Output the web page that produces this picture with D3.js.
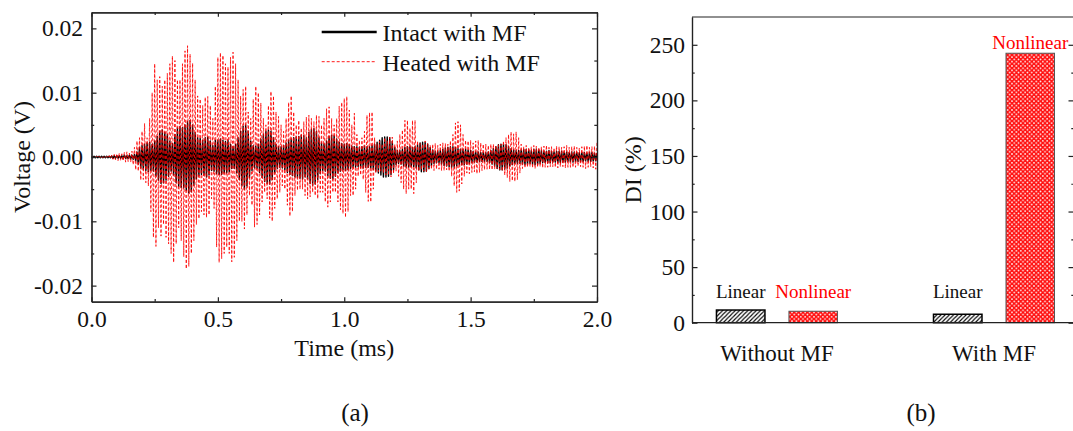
<!DOCTYPE html>
<html><head><meta charset="utf-8">
<script src="https://cdn.jsdelivr.net/npm/d3@7"></script>
<style>
body{margin:0;background:#fff;}
svg{display:block;}
</style></head><body>
<svg id="c" width="1073" height="431" font-family="Liberation Serif, Times New Roman, serif"></svg>
<script>
// ---------- data ----------
const sampleStep = 0.005; // ms between successive extremes
// alternating signal extremes (mV)
const intactMF_mV = [
0.1,-0.1,0.1,-0.1,0.1,-0.1,0.1,-0.1,0.1,-0.1,0.1,-0.1,0.1,-0.1,0.1,-0.1,0.15,-0.2,0.2,-0.2,
0.2,-0.2,0.2,-0.2,0.2,-0.25,0.3,-0.25,0.2,-0.25,0.3,-0.3,0.3,-0.35,0.4,-0.6,0.8,-1.1,1.5,-1.7,
1.8,-1.9,2.0,-2.1,2.2,-2.3,2.3,-2.1,2.0,-2.2,2.5,-2.9,3.2,-3.6,4.0,-4.1,4.2,-4.0,3.8,-3.6,
3.5,-3.0,2.5,-2.2,2.1,-2.8,3.5,-4.0,4.5,-4.6,4.7,-4.7,4.6,-4.8,5.0,-5.2,5.5,-5.6,5.7,-5.4,
5.0,-4.4,3.8,-3.4,3.0,-2.9,2.9,-2.7,2.6,-2.8,3.0,-3.1,3.1,-2.8,2.5,-2.1,1.8,-2.2,2.6,-2.6,
2.6,-2.7,2.8,-2.7,2.6,-2.5,2.4,-2.5,2.6,-2.3,2.0,-1.8,1.6,-1.8,2.0,-2.5,3.0,-3.5,4.0,-4.4,
4.8,-5.0,5.0,-4.5,4.0,-3.2,2.5,-2.1,1.8,-1.7,1.7,-1.8,2.0,-2.4,2.8,-3.2,3.5,-3.8,4.0,-4.1,
4.2,-4.2,4.0,-3.5,3.0,-2.5,2.0,-1.8,1.6,-1.6,1.6,-1.7,1.8,-2.0,2.2,-2.4,2.6,-2.7,2.8,-2.9,
3.0,-3.1,3.1,-3.2,3.2,-3.3,3.4,-3.4,3.3,-3.1,3.0,-3.4,3.8,-4.1,4.3,-4.4,4.4,-4.2,4.0,-3.5,
3.0,-2.6,2.2,-2.1,2.0,-2.2,2.5,-2.9,3.2,-3.3,3.4,-3.4,3.3,-3.0,2.8,-2.5,2.3,-2.2,2.1,-2.0,
2.0,-2.1,2.1,-2.0,1.9,-1.8,1.7,-1.6,1.6,-1.6,1.6,-1.5,1.5,-1.6,1.6,-1.7,1.7,-1.6,1.6,-1.6,
1.6,-1.7,1.8,-1.9,2.0,-2.2,2.3,-2.5,2.6,-2.8,3.0,-3.1,3.1,-3.1,3.1,-3.0,3.0,-2.7,2.4,-2.0,
1.5,-1.2,1.0,-1.0,1.0,-1.1,1.2,-1.4,1.5,-1.6,1.6,-1.6,1.6,-1.5,1.5,-1.5,1.6,-1.7,1.9,-2.0,
2.2,-2.3,2.3,-2.3,2.3,-2.2,2.0,-1.8,1.5,-1.3,1.1,-1.0,0.9,-0.9,0.9,-0.9,1.0,-1.1,1.2,-1.3,
1.4,-1.4,1.5,-1.5,1.6,-1.6,1.6,-1.6,1.5,-1.4,1.3,-1.2,1.2,-1.2,1.2,-1.2,1.2,-1.1,1.1,-1.0,
1.0,-0.9,0.9,-0.8,0.8,-0.8,0.8,-0.7,0.7,-0.7,0.7,-0.7,0.7,-0.7,0.8,-0.9,1.0,-1.1,1.3,-1.4,
1.6,-1.8,1.9,-2.0,2.0,-2.0,2.0,-1.9,1.9,-1.7,1.6,-1.4,1.3,-1.2,1.1,-1.0,1.0,-1.0,1.0,-1.0,
1.1,-1.1,1.2,-1.2,1.2,-1.1,1.1,-1.0,1.0,-1.1,1.2,-1.2,1.2,-1.1,1.1,-1.0,1.0,-0.9,0.9,-0.9,
0.9,-0.9,1.0,-0.9,0.9,-0.8,0.8,-0.8,0.9,-0.9,0.9,-0.9,0.9,-0.8,0.8,-0.8,0.8,-0.7,0.7,-0.7,
0.8,-0.8,0.8,-0.7,0.7,-0.7,0.7,-0.7,0.7,-0.7,0.7,-0.6,0.6,-0.7,0.7,-0.7,0.7,-0.6,0.6,-0.6,
0.6];
const heatedMF_mV = [
0.1,-0.1,0.1,-0.1,0.1,-0.1,0.1,-0.1,0.1,-0.1,0.1,-0.1,0.1,-0.15,0.2,-0.2,0.3,-0.35,0.4,-0.45,
0.5,-0.55,0.6,-0.5,0.5,-0.6,0.7,-0.8,0.8,-0.7,0.6,-0.8,0.9,-1.2,1.5,-2.0,2.5,-2.2,3.0,-3.6,
4.0,-3.5,5.2,-4.0,3.0,-4.5,6.0,-8.5,10.0,-12.5,14.5,-13.9,12.0,-11.0,12.5,-12.3,11.0,-10.5,12.0,-12.5,
13.0,-13.5,14.5,-15.0,15.7,-16.4,15.0,-13.5,12.0,-11.0,12.0,-13.0,14.5,-15.5,16.5,-17.4,17.3,-17.0,16.0,-15.0,
14.6,-13.0,12.0,-10.5,9.5,-9.6,9.0,-8.5,8.0,-9.0,9.3,-9.4,9.4,-9.0,8.0,-6.5,6.0,-8.0,11.0,-14.0,
15.5,-16.4,16.2,-15.8,15.8,-15.0,14.5,-14.0,14.0,-15.0,15.5,-16.3,16.3,-15.6,14.5,-13.0,12.0,-10.0,9.5,-10.0,
10.5,-11.2,11.0,-9.0,7.0,-6.0,6.0,-7.5,9.0,-10.9,11.0,-10.5,10.0,-9.0,8.4,-7.0,6.0,-5.5,5.0,-6.5,
8.0,-9.5,10.2,-10.0,9.5,-8.0,7.0,-6.5,6.3,-5.5,5.0,-4.5,4.0,-5.0,6.0,-7.5,8.5,-9.2,9.5,-8.5,
7.0,-6.0,5.0,-5.2,5.7,-5.0,4.5,-5.0,5.5,-6.0,6.2,-6.5,6.5,-6.2,6.0,-5.5,5.5,-6.0,6.5,-6.5,
6.3,-5.5,5.0,-5.5,6.0,-7.0,7.5,-7.8,7.8,-7.0,6.0,-5.5,5.0,-5.5,6.0,-7.0,7.9,-8.2,8.5,-8.8,
9.1,-9.4,9.4,-8.5,7.3,-6.0,5.0,-6.0,6.8,-5.0,3.5,-3.0,2.6,-2.8,3.0,-3.5,4.0,-5.5,6.5,-6.9,
6.9,-7.0,7.0,-5.0,3.0,-2.5,2.1,-2.3,2.5,-2.2,2.0,-2.5,3.0,-2.8,2.5,-2.8,3.1,-3.1,3.1,-2.6,
2.0,-2.2,2.5,-3.0,3.5,-4.0,4.2,-5.0,5.7,-5.7,5.7,-5.0,4.5,-5.0,5.7,-5.7,5.7,-4.0,2.5,-2.2,
2.1,-2.0,2.0,-2.2,2.5,-2.3,2.1,-1.9,1.8,-1.9,2.0,-2.1,2.1,-1.9,1.8,-1.9,2.0,-2.1,2.2,-2.1,
2.1,-2.0,2.0,-2.2,2.5,-3.0,3.5,-4.5,5.3,-5.5,5.5,-5.3,5.0,-4.2,3.5,-3.0,2.6,-2.5,2.5,-2.6,
2.6,-2.4,2.2,-2.3,2.5,-2.6,2.6,-2.4,2.2,-2.1,2.0,-2.0,2.0,-1.9,1.8,-1.9,2.0,-2.0,2.0,-1.9,
1.8,-1.8,1.9,-2.0,2.0,-2.2,2.5,-2.8,3.0,-3.2,3.5,-3.8,3.9,-3.7,3.6,-3.8,3.9,-3.5,3.0,-2.5,
2.0,-1.8,1.6,-1.7,1.8,-1.6,1.5,-1.5,1.6,-1.7,1.8,-1.8,1.7,-1.6,1.5,-1.5,1.6,-1.7,1.7,-1.6,
1.8,-1.6,1.5,-1.5,1.6,-1.5,1.4,-1.6,1.7,-1.7,1.6,-1.5,1.5,-1.5,1.6,-1.7,1.8,-1.6,1.5,-1.6,
1.6,-1.6,1.7,-1.6,1.5,-1.4,1.4,-1.5,1.6,-1.6,1.7,-1.8,1.8,-1.6,1.5,-1.5,1.6,-1.7,1.7,-1.9,
2.2];
const timeTicks = [0, 0.5, 1.0, 1.5, 2.0];
const timeMinor = [0.25, 0.75, 1.25, 1.75];
const voltTicks = [-0.02, -0.01, 0.00, 0.01, 0.02];
const voltMinor = [-0.015, -0.005, 0.005, 0.015];
const legendNames = ["Intact with MF", "Heated with MF"];

const categories = ["Without MF", "With MF"];
const seriesNames = ["Linear", "Nonlinear"];
const linearDI = [11.4, 7.6];
const nonlinearDI = [10.3, 242.4];
const diTicks = [0, 50, 100, 150, 200, 250];
const diMinor = [25, 75, 125, 175, 225];

// ---------- setup ----------
const FONT = "Liberation Serif, Times New Roman, serif";
const svg = d3.select("#c");
const defs = svg.append("defs");
const AX = "#222";

function styleAxis(g, fs) {
  g.attr("font-size", null).attr("font-family", FONT);
  g.select(".domain").attr("stroke", AX).attr("stroke-width", 1.2);
  g.selectAll(".tick line").attr("stroke", AX).attr("stroke-width", 1.2);
  g.selectAll(".tick text").attr("font-size", fs).attr("font-family", FONT).attr("fill", "#111");
}
function txt(parent) {
  return parent.append("text").attr("font-family", FONT).attr("fill", "#111");
}

// ---------- panel (a) ----------
const A = {l: 91.5, r: 597, t: 12.3, b: 301.7};
const x = d3.scaleLinear().domain([0, 2]).range([A.l, A.r]);
const y = d3.scaleLinear().domain([-0.0225, 0.0225]).range([A.b, A.t]);

defs.append("clipPath").attr("id", "clipA").append("rect")
  .attr("x", A.l).attr("y", A.t).attr("width", A.r - A.l).attr("height", A.b - A.t);

const line = d3.line().x((d, i) => x(i * sampleStep)).y(d => y(d / 1000));
const plotA = svg.append("g").attr("clip-path", "url(#clipA)");
plotA.append("path").datum(intactMF_mV).attr("d", line)
  .attr("fill", "none").attr("stroke", "#000").attr("stroke-width", 1.4).attr("stroke-linejoin", "round");
plotA.append("path").datum(heatedMF_mV).attr("d", line)
  .attr("fill", "none").attr("stroke", "#ff0000").attr("stroke-width", 0.85)
  .attr("stroke-dasharray", "3 2");

// axes (ticks inside on all four sides)
const fmtX = d => d.toFixed(1);
const fmtY = d => d.toFixed(2).replace("-0.00", "0.00");
styleAxis(svg.append("g").attr("transform", `translate(0,${A.b})`)
  .call(d3.axisBottom(x).tickValues(timeTicks).tickSizeInner(-4.5).tickSizeOuter(0).tickPadding(9).tickFormat(fmtX)), "23.5px");
styleAxis(svg.append("g").attr("transform", `translate(0,${A.b})`)
  .call(d3.axisBottom(x).tickValues(timeMinor).tickSizeInner(-2.7).tickSizeOuter(0).tickFormat("")), "0");
styleAxis(svg.append("g").attr("transform", `translate(0,${A.t})`)
  .call(d3.axisTop(x).tickValues(timeTicks).tickSizeInner(-4.5).tickSizeOuter(0).tickFormat("")), "0");
styleAxis(svg.append("g").attr("transform", `translate(0,${A.t})`)
  .call(d3.axisTop(x).tickValues(timeMinor).tickSizeInner(-2.7).tickSizeOuter(0).tickFormat("")), "0");
styleAxis(svg.append("g").attr("transform", `translate(${A.l},0)`)
  .call(d3.axisLeft(y).tickValues(voltTicks).tickSizeInner(-5).tickSizeOuter(0).tickPadding(8.5).tickFormat(fmtY)), "23.5px");
styleAxis(svg.append("g").attr("transform", `translate(${A.l},0)`)
  .call(d3.axisLeft(y).tickValues(voltMinor).tickSizeInner(-2.7).tickSizeOuter(0).tickFormat("")), "0");
styleAxis(svg.append("g").attr("transform", `translate(${A.r},0)`)
  .call(d3.axisRight(y).tickValues(voltTicks).tickSizeInner(-5).tickSizeOuter(0).tickFormat("")), "0");
styleAxis(svg.append("g").attr("transform", `translate(${A.r},0)`)
  .call(d3.axisRight(y).tickValues(voltMinor).tickSizeInner(-2.7).tickSizeOuter(0).tickFormat("")), "0");

txt(svg).attr("x", (A.l + A.r) / 2).attr("y", 356).attr("text-anchor", "middle")
  .attr("font-size", "24px").text("Time (ms)");
txt(svg).attr("transform", `translate(30,${(A.t + A.b) / 2}) rotate(-90)`)
  .attr("text-anchor", "middle").attr("font-size", "24px").text("Voltage (V)");

// legend
const lg = svg.append("g");
lg.append("line").attr("x1", 321.7).attr("x2", 376.7).attr("y1", 32).attr("y2", 32)
  .attr("stroke", "#000").attr("stroke-width", 2.6);
lg.append("line").attr("x1", 321.7).attr("x2", 376.7).attr("y1", 61.7).attr("y2", 61.7)
  .attr("stroke", "#ff0000").attr("stroke-width", 0.9).attr("stroke-dasharray", "3 2");
txt(lg).attr("x", 382.5).attr("y", 40.5).attr("font-size", "24px").text(legendNames[0]);
txt(lg).attr("x", 382.5).attr("y", 70.5).attr("font-size", "24px").text(legendNames[1]);

txt(svg).attr("x", 355).attr("y", 421).attr("text-anchor", "middle")
  .attr("font-size", "25px").text("(a)");

// ---------- panel (b) ----------
const B = {l: 692, r: 1074, t: 17, b: 322.7};
const yD = d3.scaleLinear().domain([0, 275]).range([B.b, B.t]);
const xG = d3.scalePoint().domain(categories).range([B.l, B.r]).padding(0.38).align(0.515);
const xS = d3.scaleBand().domain(seriesNames).range([-60.5, 60.5]).paddingInner(0.331).paddingOuter(0);

// patterns
const ph = defs.append("pattern").attr("id", "hatch").attr("patternUnits", "userSpaceOnUse")
  .attr("width", 4.2).attr("height", 4.2);
ph.append("rect").attr("width", 4.2).attr("height", 4.2).attr("fill", "#fff");
ph.append("path").attr("d", "M-1,1 L1,-1 M0,4.2 L4.2,0 M3.2,5.2 L5.2,3.2")
  .attr("stroke", "#000").attr("stroke-width", 1.1);
const pd = defs.append("pattern").attr("id", "dots").attr("patternUnits", "userSpaceOnUse")
  .attr("width", 4.4).attr("height", 4.4);
pd.append("rect").attr("width", 4.4).attr("height", 4.4).attr("fill", "#ff1010");
[[0,0],[4.4,0],[0,4.4],[4.4,4.4],[2.2,2.2]].forEach(([cx, cy]) =>
  pd.append("circle").attr("cx", cx).attr("cy", cy).attr("r", 0.85).attr("fill", "#fff"));

const barData = [];
categories.forEach((c, i) => {
  barData.push({cat: c, ser: seriesNames[0], v: linearDI[i]});
  barData.push({cat: c, ser: seriesNames[1], v: nonlinearDI[i]});
});

svg.append("g").selectAll("rect").data(barData).join("rect")
  .attr("x", d => xG(d.cat) + xS(d.ser))
  .attr("width", xS.bandwidth())
  .attr("y", d => yD(d.v))
  .attr("height", d => yD(0) - yD(d.v))
  .attr("fill", d => d.ser === "Linear" ? "url(#hatch)" : "url(#dots)")
  .attr("stroke", d => d.ser === "Linear" ? "#000" : "#555")
  .attr("stroke-width", d => d.ser === "Linear" ? 1.5 : 1);

svg.append("g").selectAll("text").data(barData).join("text")
  .attr("font-family", FONT)
  .attr("x", d => xG(d.cat) + xS(d.ser) + xS.bandwidth() / 2)
  .attr("y", d => Math.min(yD(d.v) - 4, yD(22)))
  .attr("text-anchor", "middle").attr("font-size", "19px")
  .attr("fill", d => d.ser === "Linear" ? "#111" : "#ff0000")
  .text(d => d.ser);

// axes
styleAxis(svg.append("g").attr("transform", `translate(${B.l},0)`)
  .call(d3.axisLeft(yD).tickValues(diTicks).tickSizeInner(-5.5).tickSizeOuter(0).tickPadding(7)), "23.5px");
styleAxis(svg.append("g").attr("transform", `translate(${B.l},0)`)
  .call(d3.axisLeft(yD).tickValues(diMinor).tickSizeInner(-2.7).tickSizeOuter(0).tickFormat("")), "0");
styleAxis(svg.append("g").attr("transform", `translate(${B.r},0)`)
  .call(d3.axisRight(yD).tickValues(diTicks).tickSizeInner(-5.5).tickSizeOuter(0).tickFormat("")), "0");
styleAxis(svg.append("g").attr("transform", `translate(${B.r},0)`)
  .call(d3.axisRight(yD).tickValues(diMinor).tickSizeInner(-2.7).tickSizeOuter(0).tickFormat("")), "0");
svg.append("line").attr("x1", B.l).attr("x2", B.r).attr("y1", B.t).attr("y2", B.t)
  .attr("stroke", AX).attr("stroke-width", 1.2);
svg.append("line").attr("x1", B.l).attr("x2", B.r).attr("y1", B.b).attr("y2", B.b)
  .attr("stroke", AX).attr("stroke-width", 1.2);

svg.append("g").selectAll("text").data(categories).join("text")
  .attr("font-family", FONT).attr("fill", "#111")
  .attr("x", d => xG(d)).attr("y", 361).attr("text-anchor", "middle")
  .attr("font-size", "23px").text(d => d);

txt(svg).attr("transform", `translate(641,${(B.t + B.b) / 2}) rotate(-90)`)
  .attr("text-anchor", "middle").attr("font-size", "24px").text("DI (%)");

txt(svg).attr("x", 921).attr("y", 421).attr("text-anchor", "middle")
  .attr("font-size", "25px").text("(b)");
</script>
</body></html>
